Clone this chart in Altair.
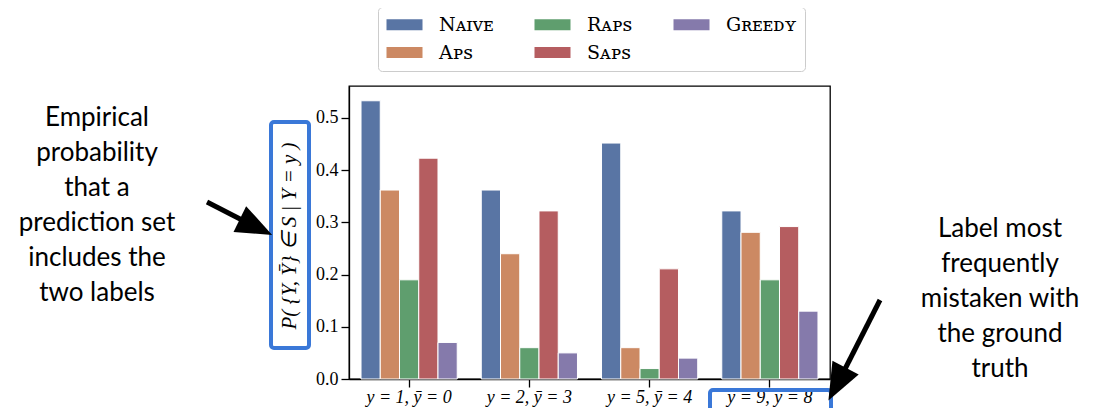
import altair as alt
import pandas as pd

# ---------------- data ----------------
categories = ["y = 1, ȳ = 0", "y = 2, ȳ = 3", "y = 5, ȳ = 4", "y = 9, ȳ = 8"]
methods = ["Nᴀɪᴠᴇ", "Aᴘꜱ", "Rᴀᴘꜱ", "Sᴀᴘꜱ", "Gʀᴇᴇᴅʏ"]
naive = [0.533, 0.362, 0.452, 0.322]
aps = [0.362, 0.240, 0.060, 0.281]
raps = [0.190, 0.060, 0.020, 0.190]
saps = [0.423, 0.322, 0.211, 0.292]
greedy = [0.070, 0.050, 0.040, 0.130]
colors = ["#5975a4", "#cc8963", "#5f9e6e", "#b55d60", "#857aab"]
y_ticks = [0.0, 0.1, 0.2, 0.3, 0.4, 0.5]

left_note = "Empirical\nprobability\nthat a\nprediction set\nincludes the\ntwo labels"
right_note = "Label most\nfrequently\nmistaken with\nthe ground\ntruth"
y_title = "P( {Y, Ȳ} ∈ S | Y = y )"

series = [naive, aps, raps, saps, greedy]
rows = []
for m, vals in zip(methods, series):
    for c, v in zip(categories, vals):
        rows.append({"cat": c, "method": m, "value": v})
df = pd.DataFrame(rows)

# ---------------- layout (page pixels) ----------------
PL, PT = 349, 86          # plot area origin on page
W, H = 481, 293


def px(x):
    return x - PL


def py(y):
    return y - PT


BLUE = "#3a78d8"
one = pd.DataFrame({"k": [0]})

bars = alt.Chart(df).mark_bar(stroke="white", strokeWidth=1).encode(
    x=alt.X("cat:N", sort=categories, title=None,
            scale=alt.Scale(paddingInner=0.2, paddingOuter=0.1),
            axis=alt.Axis(labelAngle=0, labelFont="Liberation Serif", labelFontStyle="italic",
                          labelFontSize=18, labelColor="black", tickSize=8, tickColor="black",
                          tickWidth=1.3, domainColor="black", domainWidth=1.3, labelPadding=1)),
    xOffset=alt.XOffset("method:N", sort=methods, scale=alt.Scale(paddingInner=0)),
    y=alt.Y("value:Q", title=None,
            scale=alt.Scale(domain=[0, 0.5613], nice=False, zero=True),
            axis=alt.Axis(values=y_ticks, format=".1f", grid=False, labelFont="Liberation Serif",
                          labelFontSize=18, labelColor="black", tickSize=8, tickColor="black",
                          tickWidth=1.3, domainColor="black", domainWidth=1.3, labelPadding=3)),
    color=alt.Color("method:N", scale=alt.Scale(domain=methods, range=colors),
                    legend=alt.Legend(orient="none", legendX=px(378), legendY=py(7), columns=3,
                                      title=None,
                                      symbolType="M-1,-0.62 L3,-0.62 L3,0.62 L-1,0.62 Z",
                                      symbolSize=324, symbolStrokeWidth=0, symbolOpacity=1,
                                      labelFont="DejaVu Serif", labelFontSize=19,
                                      labelColor="black", labelOffset=34,
                                      columnPadding=40, rowPadding=8, padding=8,
                                      strokeColor="#cccccc", fillColor="white",
                                      cornerRadius=4, labelLimit=200)),
)

# y-title box and text
ybox = alt.Chart(one).mark_rect(fill="white", stroke=BLUE, strokeWidth=4, cornerRadius=3).encode(
    x=alt.value(px(271)), x2=alt.value(px(309)), y=alt.value(py(122)), y2=alt.value(py(348)))
ytext = alt.Chart(one).mark_text(angle=270, font="Liberation Serif", fontStyle="italic",
                                 fontSize=21, color="black", align="center",
                                 baseline="middle").encode(
    x=alt.value(px(290)), y=alt.value(py(236)), text=alt.value(y_title))

# box around fourth x label
xbox = alt.Chart(one).mark_rect(fill=None, stroke=BLUE, strokeWidth=4, cornerRadius=3).encode(
    x=alt.value(px(710)), x2=alt.value(px(831)), y=alt.value(py(390)), y2=alt.value(py(412)))

# annotation texts (y = centre of first line)
ltext = alt.Chart(one).mark_text(font="Lato", fontSize=26, lineBreak="\n", lineHeight=35,
                                 align="center", baseline="middle", color="black").encode(
    x=alt.value(px(97)), y=alt.value(py(118)), text=alt.value(left_note))
rtext = alt.Chart(one).mark_text(font="Lato", fontSize=26, lineBreak="\n", lineHeight=35,
                                 align="center", baseline="middle", color="black").encode(
    x=alt.value(px(1000)), y=alt.value(py(229)), text=alt.value(right_note))

# arrows
head_shape = "M0,-1 L0.8,1 L-0.8,1 Z"
lshaft = alt.Chart(one).mark_rule(strokeWidth=5, color="black").encode(
    x=alt.value(px(207)), y=alt.value(py(202)), x2=alt.value(px(242)), y2=alt.value(py(220)))
lhead = alt.Chart(one).mark_point(shape=head_shape, filled=True, color="black", opacity=1,
                                  size=1296, angle=116).encode(
    x=alt.value(px(256)), y=alt.value(py(227)))
rshaft = alt.Chart(one).mark_rule(strokeWidth=5, color="black").encode(
    x=alt.value(px(880)), y=alt.value(py(300)), x2=alt.value(px(845)), y2=alt.value(py(369)))
rhead = alt.Chart(one).mark_point(shape=head_shape, filled=True, color="black", opacity=1,
                                  size=1369, angle=207.6).encode(
    x=alt.value(px(837)), y=alt.value(py(384)))

chart = alt.layer(bars, ybox, ytext, xbox, ltext, rtext, lshaft, lhead, rshaft, rhead).properties(
    width=W, height=H,
    background="white",
    autosize=alt.AutoSizeParams(type="none"),
    padding={"left": PL - 8, "top": PT - 8, "right": 1087 - PL - W, "bottom": 408 - PT - H},
).configure_view(stroke="black", strokeWidth=1.3)

chart.save("out.html", embed_options={"renderer": "svg", "actions": False})
